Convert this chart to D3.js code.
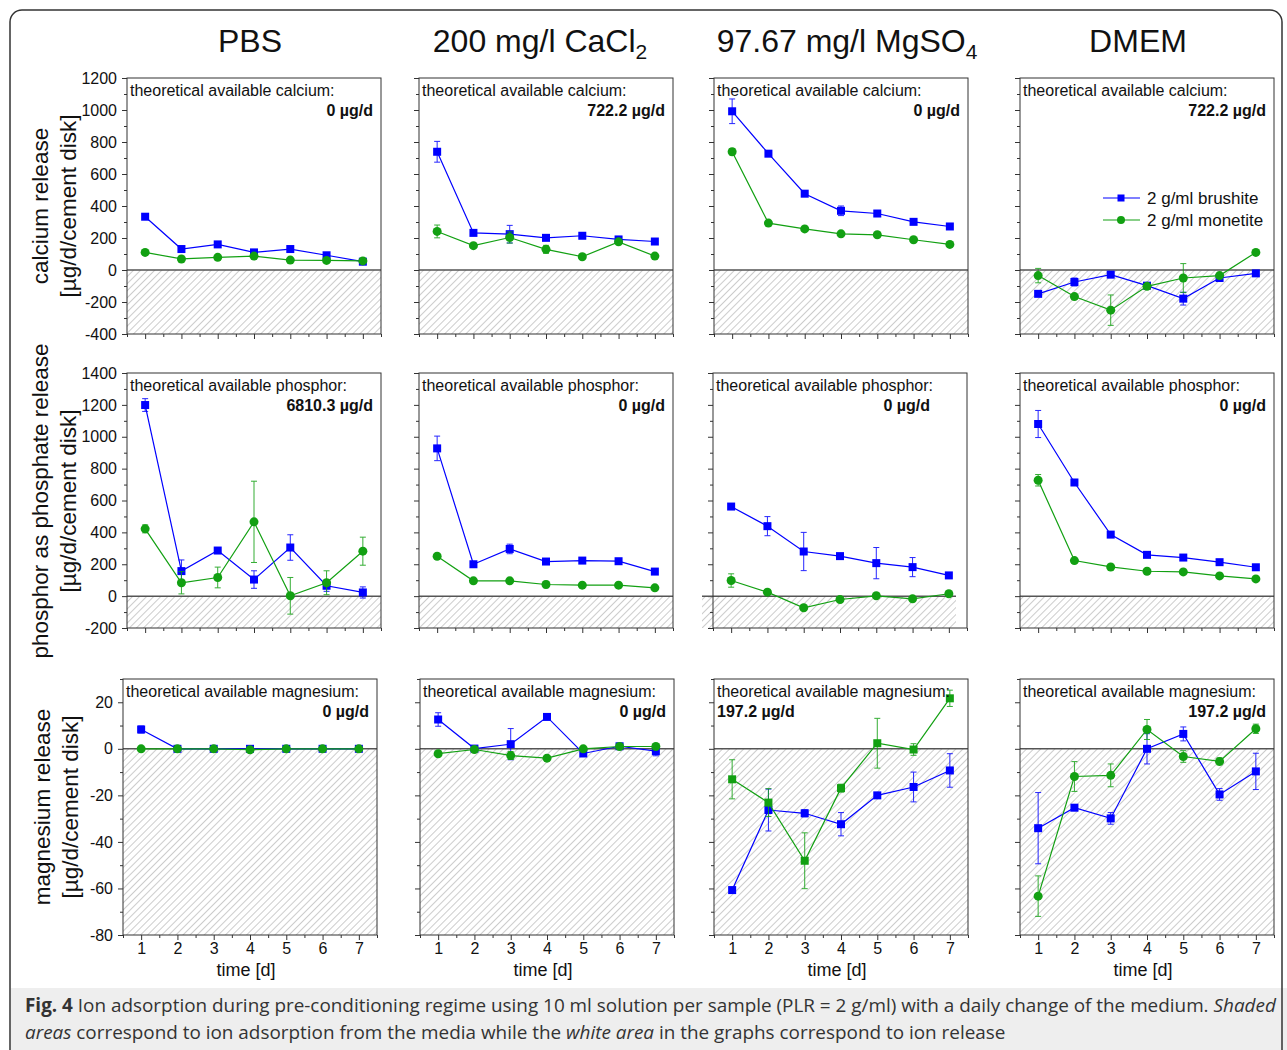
<!DOCTYPE html>
<html>
<head>
<meta charset="utf-8">
<script src="https://cdn.jsdelivr.net/npm/d3@7"></script>
<style>
    body { margin: 0; background: #fff; }
    svg { display: block; font-family: Arial, "Liberation Sans", sans-serif; }
</style>
</head>
<body>
<div id="chart"></div>
<script>
// ---- data ----
const days = [1, 2, 3, 4, 5, 6, 7]
const media = ['PBS', '200 mg/l CaCl', '97.67 mg/l MgSO', 'DMEM']
const mediaSub = ['', '2', '4', '']
const seriesNames = ['2 g/ml brushite', '2 g/ml monetite']
const yTitles = [
    ['calcium release', '[µg/d/cement disk]'],
    ['phosphor as phosphate release', '[µg/d/cement disk]'],
    ['magnesium release', '[µg/d/cement disk]']
]
const ionNames = ['calcium', 'phosphor', 'magnesium']

// one row per medium: PBS, CaCl2, MgSO4, DMEM
const calciumBrushite = [
    [333, 131, 160, 110, 131, 92, 52],
    [739, 232, 224, 201, 214, 191, 178],
    [992, 727, 477, 370, 353, 301, 272],
    [-149, -75, -29, -98, -179, -50, -21]
]
const calciumBrushiteErr = [
    [10, 8, 8, 8, 8, 8, 6],
    [65, 10, 55, 10, 15, 8, 8],
    [77, 8, 10, 30, 10, 8, 8],
    [8, 25, 10, 15, 40, 22, 10]
]
const calciumMonetite = [
    [110, 69, 79, 87, 62, 60, 57],
    [241, 152, 203, 129, 83, 176, 87],
    [739, 293, 257, 226, 220, 189, 160],
    [-35, -166, -251, -102, -50, -35, 110]
]
const calciumMonetiteErr = [
    [6, 6, 6, 6, 6, 6, 6],
    [40, 8, 35, 25, 8, 8, 6],
    [20, 8, 10, 8, 8, 8, 6],
    [45, 15, 95, 8, 90, 8, 6]
]
const phosphorBrushite = [
    [1199, 157, 286, 104, 305, 65, 23],
    [927, 200, 296, 217, 223, 219, 154],
    [562, 439, 280, 251, 207, 182, 130],
    [1080, 713, 386, 259, 242, 213, 181]
]
const phosphorBrushiteErr = [
    [40, 70, 15, 55, 80, 35, 35],
    [77, 8, 30, 10, 10, 10, 8],
    [8, 60, 120, 10, 98, 60, 8],
    [85, 10, 10, 10, 10, 10, 8]
]
const phosphorMonetite = [
    [422, 84, 117, 466, 2, 84, 282],
    [250, 96, 96, 73, 69, 69, 52],
    [98, 25, -73, -21, 2, -17, 15],
    [727, 223, 183, 156, 152, 127, 108]
]
const phosphorMonetiteErr = [
    [25, 70, 65, 255, 115, 75, 88],
    [10, 8, 8, 20, 8, 8, 8],
    [42, 15, 8, 8, 8, 8, 8],
    [36, 10, 8, 8, 8, 8, 8]
]
const magnesiumBrushite = [
    [8.3, 0, 0, 0, 0, 0, 0],
    [12.6, 0.1, 2, 13.7, -2, 1.1, -1],
    [-60.7, -26.3, -27.7, -32.4, -20, -16.4, -9.3],
    [-34.1, -25.3, -29.9, 0, 6.4, -19.6, -9.7]
]
const magnesiumBrushiteErr = [
    [1.5, 0.5, 0.5, 0.5, 0.5, 0.5, 0.5],
    [2.9, 0.5, 6.7, 0.5, 1, 1, 2],
    [1, 9, 1.5, 5, 0.5, 6.4, 7.2],
    [15.3, 0.5, 2.5, 6.5, 3, 2.5, 7.8]
]
const magnesiumMonetite = [
    [0, 0, 0, -0.4, 0, 0, 0],
    [-2.1, -0.3, -2.9, -4, 0, 1, 1],
    [-13.1, -23.1, -48.1, -16.9, 2.4, -0.3, 21.7],
    [-63.3, -11.9, -11.4, 8.3, -3.3, -5.4, 8.6]
]
const magnesiumMonetiteErr = [
    [0.3, 0.3, 0.3, 0.3, 0.3, 0.3, 0.3],
    [0.5, 0.5, 1.7, 0.5, 0.5, 0.5, 0.5],
    [8.4, 6, 12, 1.7, 10.7, 2.5, 3.5],
    [8.7, 6.4, 4.9, 4.3, 2.5, 1.5, 2]
]
const theoCalcium = ['0', '722.2', '0', '722.2']
const theoPhosphor = ['6810.3', '0', '0', '0']
const theoMagnesium = ['0', '0', '197.2', '197.2']

const yDomains = [[-400, 1200], [-200, 1400], [-80, 30]]
const yMajorTicks = [d3.range(-400, 1201, 200), d3.range(-200, 1401, 200), d3.range(-80, 21, 20)]
const yMinorTicks = [d3.range(-300, 1200, 200), d3.range(-100, 1400, 200), d3.range(-70, 31, 20)]

const rows = [
    {brushite: calciumBrushite, brushiteErr: calciumBrushiteErr, monetite: calciumMonetite, monetiteErr: calciumMonetiteErr, theo: theoCalcium},
    {brushite: phosphorBrushite, brushiteErr: phosphorBrushiteErr, monetite: phosphorMonetite, monetiteErr: phosphorMonetiteErr, theo: theoPhosphor},
    {brushite: magnesiumBrushite, brushiteErr: magnesiumBrushiteErr, monetite: magnesiumMonetite, monetiteErr: magnesiumMonetiteErr, theo: theoMagnesium}
]

// ---- layout ----
const W = 1287, H = 1050
const BLUE = '#0000ff', GREEN = '#12a012'
const rowTop = [78, 373, 679]
const rowBottom = [334, 628, 935]
const colLeft = [[127, 419, 714, 1020], [127, 419, 713, 1020], [123, 420, 714, 1020]]
const panelW = 254
const titleX = [250, 540, 847, 1138]
const yTitleY = [206, 501, 807]

const svg = d3.select('#chart').append('svg')
    .attr('width', W).attr('height', H)

svg.append('defs').append('pattern')
    .attr('id', 'hatch')
    .attr('patternUnits', 'userSpaceOnUse')
    .attr('width', 5).attr('height', 5)
    .attr('patternTransform', 'rotate(45)')
    .append('line')
    .attr('x1', 0).attr('y1', 0).attr('x2', 0).attr('y2', 5)
    .attr('stroke', '#9a9a9a').attr('stroke-width', 1)

// caption band + outer frame
svg.append('rect').attr('x', 11).attr('y', 988).attr('width', W).attr('height', 70).attr('fill', '#eeeeee')
svg.append('rect')
    .attr('x', 10).attr('y', 10).attr('width', 1272).attr('height', 1070).attr('rx', 12)
    .attr('fill', 'none').attr('stroke', '#333').attr('stroke-width', 1.5)

// column titles
media.forEach((m, c) => {
    let t = svg.append('text')
        .attr('x', titleX[c]).attr('y', 52)
        .attr('text-anchor', 'middle')
        .style('font-size', '32px').attr('fill', '#111')
        .text(m)
    if (mediaSub[c]) {
        t.append('tspan').attr('dy', 7).style('font-size', '21px').text(mediaSub[c])
    }
})

// row titles
yTitles.forEach((lines, r) => {
    lines.forEach((s, k) => {
        svg.append('text')
            .attr('transform', 'translate(' + ((r === 2 ? 42 : 40) + k * 28) + ',' + yTitleY[r] + ') rotate(-90)')
            .attr('text-anchor', 'middle')
            .attr('dy', '0.35em')
            .style('font-size', '22.5px').attr('fill', '#111')
            .text(s)
    })
})

const fmt = d => String(d)

for (let r = 0; r < 3; r++) {
    for (let c = 0; c < 4; c++) {
        const left = colLeft[r][c], top = rowTop[r], bottom = rowBottom[r]
        const x = d3.scaleLinear().domain([0.5, 7.5]).range([left, left + panelW])
        const y = d3.scaleLinear().domain(yDomains[r]).range([bottom, top])
        const g = svg.append('g')
        // odd offset of the shaded area in the MgSO4 phosphor panel
        const shift = (r === 1 && c === 2) ? -11 : 0

        // shaded adsorption area
        g.append('rect')
            .attr('x', left + shift).attr('y', y(0))
            .attr('width', panelW).attr('height', bottom - y(0))
            .attr('fill', 'url(#hatch)')

        // y axis
        let yAxis = d3.axisLeft(y).tickValues(yMajorTicks[r]).tickSize(5).tickPadding(5)
            .tickFormat(c === 0 ? fmt : '')
        g.append('g').attr('transform', 'translate(' + left + ',0)').call(yAxis)
            .call(a => a.select('.domain').remove())
            .call(a => a.selectAll('text').style('font-size', '16px').attr('fill', '#111'))
        g.append('g').attr('transform', 'translate(' + left + ',0)')
            .call(d3.axisLeft(y).tickValues(yMinorTicks[r]).tickSize(3).tickFormat(''))
            .call(a => a.select('.domain').remove())

        // x axis
        let xAxis = d3.axisBottom(x).tickValues(days).tickSize(5).tickPadding(3)
            .tickFormat(r === 2 ? fmt : '')
        g.append('g').attr('transform', 'translate(0,' + bottom + ')').call(xAxis)
            .call(a => a.select('.domain').remove())
            .call(a => a.selectAll('text').style('font-size', '16px').attr('fill', '#111'))
        g.append('g').attr('transform', 'translate(0,' + bottom + ')')
            .call(d3.axisBottom(x).tickValues(d3.range(0.5, 7.6, 1)).tickSize(3).tickFormat(''))
            .call(a => a.select('.domain').remove())
        g.selectAll('.tick line').attr('stroke', '#333')

        if (r === 2) {
            g.append('text')
                .attr('x', left + panelW / 2 - 4).attr('y', 976)
                .attr('text-anchor', 'middle')
                .style('font-size', '18px').attr('fill', '#111')
                .text('time [d]')
        }

        // zero line and frame
        g.append('line')
            .attr('x1', left + shift).attr('x2', left + panelW + shift)
            .attr('y1', y(0)).attr('y2', y(0))
            .attr('stroke', '#555').attr('stroke-width', 1.5)
        g.append('rect')
            .attr('x', left).attr('y', top).attr('width', panelW).attr('height', bottom - top)
            .attr('fill', 'none').attr('stroke', '#333').attr('stroke-width', 1)

        // series
        const series = [
            {vals: rows[r].brushite[c], err: rows[r].brushiteErr[c], color: BLUE, shape: 'square'},
            {vals: rows[r].monetite[c], err: rows[r].monetiteErr[c], color: GREEN,
                shape: (r === 2 && c === 2) ? 'square' : 'circle'}
        ]
        series.forEach(s => {
            const pts = days.map((d, i) => ({d: d, v: s.vals[i], e: s.err[i]}))
            g.append('path').datum(pts)
                .attr('d', d3.line().x(p => x(p.d)).y(p => y(p.v)))
                .attr('fill', 'none').attr('stroke', s.color).attr('stroke-width', 1.2)
            const eb = g.append('g').attr('stroke', s.color).attr('stroke-width', 1).attr('opacity', 0.85)
            pts.forEach(p => {
                eb.append('line').attr('x1', x(p.d)).attr('x2', x(p.d))
                    .attr('y1', y(p.v - p.e)).attr('y2', y(p.v + p.e))
                eb.append('line').attr('x1', x(p.d) - 3).attr('x2', x(p.d) + 3)
                    .attr('y1', y(p.v - p.e)).attr('y2', y(p.v - p.e))
                eb.append('line').attr('x1', x(p.d) - 3).attr('x2', x(p.d) + 3)
                    .attr('y1', y(p.v + p.e)).attr('y2', y(p.v + p.e))
            })
            if (s.shape === 'square') {
                g.selectAll(null).data(pts).enter().append('rect')
                    .attr('x', p => x(p.d) - 4).attr('y', p => y(p.v) - 4)
                    .attr('width', 8).attr('height', 8)
                    .attr('fill', s.color)
            } else {
                g.selectAll(null).data(pts).enter().append('circle')
                    .attr('cx', p => x(p.d)).attr('cy', p => y(p.v)).attr('r', 4.5)
                    .attr('fill', s.color)
            }
        })

        // theoretical availability note
        g.append('text')
            .attr('x', left + 3).attr('y', top + 18)
            .style('font-size', '16px').attr('fill', '#111')
            .text('theoretical available ' + ionNames[r] + ':')
        let leftAligned = (r === 2 && c === 2)
        let vx = leftAligned ? left + 3 : left + panelW - ((r === 1 && c === 2) ? 37 : 8)
        g.append('text')
            .attr('x', vx).attr('y', top + 38)
            .attr('text-anchor', leftAligned ? 'start' : 'end')
            .style('font-size', '16px').style('font-weight', 'bold').attr('fill', '#111')
            .text(rows[r].theo[c] + ' µg/d')

        // legend
        if (r === 0 && c === 3) {
            seriesNames.forEach((name, k) => {
                const ly = top + 120 + k * 22
                const col = k === 0 ? BLUE : GREEN
                g.append('line').attr('x1', left + 83).attr('x2', left + 120)
                    .attr('y1', ly).attr('y2', ly).attr('stroke', col).attr('stroke-width', 1.2)
                if (k === 0) {
                    g.append('rect').attr('x', left + 97.5).attr('y', ly - 3.5).attr('width', 7).attr('height', 7).attr('fill', col)
                } else {
                    g.append('circle').attr('cx', left + 101).attr('cy', ly).attr('r', 4).attr('fill', col)
                }
                g.append('text').attr('x', left + 127).attr('y', ly).attr('dy', '0.35em')
                    .style('font-size', '17px').attr('fill', '#111').text(name)
            })
        }
    }
}

// caption
const cap = svg.append('g')
    .style('font-family', '"Open Sans", "Noto Sans", sans-serif')
    .style('font-size', '18.9px').attr('fill', '#333')
let l1 = cap.append('text').attr('x', 25).attr('y', 1012)
l1.append('tspan').style('font-weight', 'bold').text('Fig. 4')
l1.append('tspan').text(' Ion adsorption during pre-conditioning regime using 10 ml solution per sample (PLR = 2 g/ml) with a daily change of the medium. ')
l1.append('tspan').style('font-style', 'italic').text('Shaded')
let l2 = cap.append('text').attr('x', 25).attr('y', 1039)
l2.append('tspan').style('font-style', 'italic').text('areas')
l2.append('tspan').text(' correspond to ion adsorption from the media while the ')
l2.append('tspan').style('font-style', 'italic').text('white area')
l2.append('tspan').text(' in the graphs correspond to ion release')
</script>
</body>
</html>
